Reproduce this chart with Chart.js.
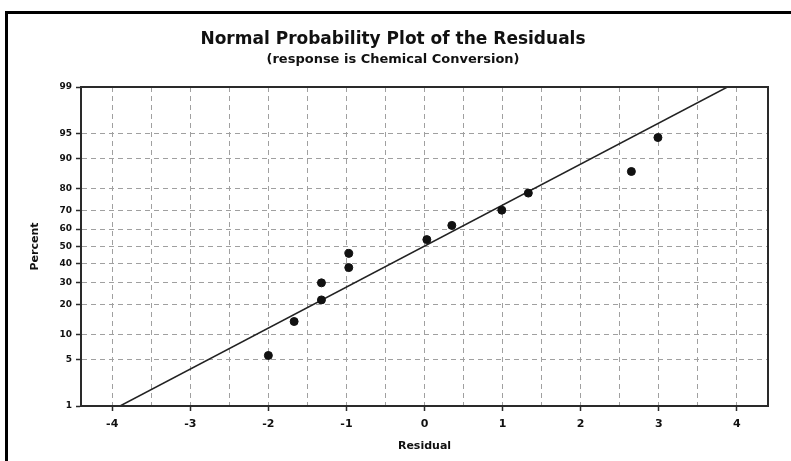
<!DOCTYPE html>
<html lang="en">
<head>
    <meta charset="UTF-8">
    <title>Normal Probability Plot of the Residuals</title>
    <script src="https://cdn.jsdelivr.net/npm/chart.js"></script>
    <style>
        html, body { margin: 0; padding: 0; background: #fff; }
        #wrap { position: relative; width: 791px; height: 461px; overflow: hidden; }
        #plot { position: absolute; left: 0; top: 0; }
        #frame { position: absolute; left: 5px; top: 11px; right: -10px; bottom: -10px;
                 border-left: 3px solid #000; border-top: 3px solid #000; pointer-events: none; }
    </style>
</head>
<body>
    <div id="wrap">
        <canvas id="plot" width="791" height="461"></canvas>
        <div id="frame"></div>
    </div>

    <script>
        // residuals (x) and their normal-plot percents (y)
        const residuals = [-2.00, -1.67, -1.32, -1.32, -0.97, -0.97, 0.03, 0.35, 0.99, 1.33, 2.65, 2.99];
        const percents = [5.6, 13.7, 21.8, 29.8, 37.9, 46.0, 54.0, 62.1, 70.2, 78.2, 86.3, 94.4];

        // fitted reference line end points
        const fitX = [-3.90, 3.88];
        const fitPct = [1, 99];

        // axis ticks
        const yTicks = [1, 5, 10, 20, 30, 40, 50, 60, 70, 80, 90, 95, 99];
        const xGrid = [-4, -3.5, -3, -2.5, -2, -1.5, -1, -0.5, 0, 0.5, 1, 1.5, 2, 2.5, 3, 3.5, 4];

        // inverse normal CDF (Acklam) so the percent axis is on a probability scale
        function probit(p) {
            const a = [-3.969683028665376e+01, 2.209460984245205e+02, -2.759285104469687e+02, 1.383577518672690e+02, -3.066479806614716e+01, 2.506628277459239e+00];
            const b = [-5.447609879822406e+01, 1.615858368580409e+02, -1.556989798598866e+02, 6.680131188771972e+01, -1.328068155288572e+01];
            const c = [-7.784894002430293e-03, -3.223964580411365e-01, -2.400758277161838e+00, -2.549732539343734e+00, 4.374664141464968e+00, 2.938163982698783e+00];
            const d = [7.784695709041462e-03, 3.224671290700398e-01, 2.445134137142996e+00, 3.754408661907416e+00];
            const pl = 0.02425;
            let q, r;
            if (p < pl) {
                q = Math.sqrt(-2 * Math.log(p));
                return (((((c[0]*q+c[1])*q+c[2])*q+c[3])*q+c[4])*q+c[5]) / ((((d[0]*q+d[1])*q+d[2])*q+d[3])*q+1);
            }
            if (p > 1 - pl) {
                q = Math.sqrt(-2 * Math.log(1 - p));
                return -(((((c[0]*q+c[1])*q+c[2])*q+c[3])*q+c[4])*q+c[5]) / ((((d[0]*q+d[1])*q+d[2])*q+d[3])*q+1);
            }
            q = p - 0.5;
            r = q * q;
            return (((((a[0]*r+a[1])*r+a[2])*r+a[3])*r+a[4])*r+a[5])*q / (((((b[0]*r+b[1])*r+b[2])*r+b[3])*r+b[4])*r+1);
        }

        const z = pct => probit(pct / 100);

        // box round the plot area
        const boxPlugin = {
            id: 'box',
            afterDraw(chart) {
                const { ctx, chartArea: a } = chart;
                ctx.save();
                ctx.strokeStyle = '#2a2a2a';
                ctx.lineWidth = 2;
                ctx.strokeRect(a.left, a.top, a.right - a.left, a.bottom - a.top);
                ctx.restore();
            }
        };

        Chart.defaults.font.family = "'DejaVu Sans', Verdana, sans-serif";
        Chart.defaults.color = '#111';

        new Chart(document.getElementById('plot'), {
            type: 'scatter',
            data: {
                datasets: [
                    {
                        label: 'Residuals',
                        data: residuals.map((r, i) => ({ x: r, y: z(percents[i]) })),
                        backgroundColor: '#111',
                        borderColor: '#111',
                        pointRadius: 4,
                        order: 1
                    },
                    {
                        label: 'Fit',
                        data: fitX.map((x, i) => ({ x: x, y: z(fitPct[i]) })),
                        showLine: true,
                        borderColor: '#222',
                        borderWidth: 1.5,
                        pointRadius: 0,
                        order: 2
                    }
                ]
            },
            options: {
                responsive: false,
                animation: false,
                layout: { padding: { left: 18, right: 23, top: 0, bottom: 0 } },
                plugins: {
                    legend: { display: false },
                    tooltip: { enabled: false },
                    title: {
                        display: true,
                        text: 'Normal Probability Plot of the Residuals',
                        font: { size: 17, weight: 'bold' },
                        padding: { top: 29, bottom: 0 }
                    },
                    subtitle: {
                        display: true,
                        text: '(response is Chemical Conversion)',
                        font: { size: 13, weight: 'bold' },
                        padding: { top: 2, bottom: 20 }
                    }
                },
                scales: {
                    x: {
                        type: 'linear',
                        min: -4.4,
                        max: 4.4,
                        afterBuildTicks: s => { s.ticks = xGrid.map(v => ({ value: v })); },
                        afterFit: s => { s.height = 55; },
                        ticks: {
                            autoSkip: false,
                            maxRotation: 0,
                            padding: 7,
                            font: { size: 11, weight: 'bold' },
                            callback: v => Number.isInteger(v) ? v : ''
                        },
                        grid: {
                            color: '#a0a0a0',
                            lineWidth: 1,
                            tickLength: 5,
                            tickColor: c => Number.isInteger(c.tick.value) ? '#2a2a2a' : 'rgba(0,0,0,0)',
                            tickWidth: 1.5
                        },
                        border: { color: '#2a2a2a', width: 2, dash: [5, 4] },
                        title: {
                            display: true,
                            text: 'Residual',
                            font: { size: 11, weight: 'bold' },
                            padding: { top: 0, bottom: 8 }
                        }
                    },
                    y: {
                        type: 'linear',
                        min: z(1),
                        max: z(99),
                        afterBuildTicks: s => { s.ticks = yTicks.map(p => ({ value: z(p) })); },
                        afterFit: s => { s.width = 63; },
                        ticks: {
                            autoSkip: false,
                            padding: 4,
                            font: { size: 9, weight: 'bold' },
                            callback: (v, i) => yTicks[i]
                        },
                        grid: {
                            color: '#a0a0a0',
                            lineWidth: 1,
                            tickLength: 5,
                            tickColor: '#2a2a2a',
                            tickWidth: 1.5
                        },
                        border: { color: '#2a2a2a', width: 2, dash: [5, 4] },
                        title: {
                            display: true,
                            text: 'Percent',
                            font: { size: 11, weight: 'bold' },
                            padding: { top: 11, bottom: 0 }
                        }
                    }
                }
            },
            plugins: [boxPlugin]
        });
    </script>
</body>
</html>
